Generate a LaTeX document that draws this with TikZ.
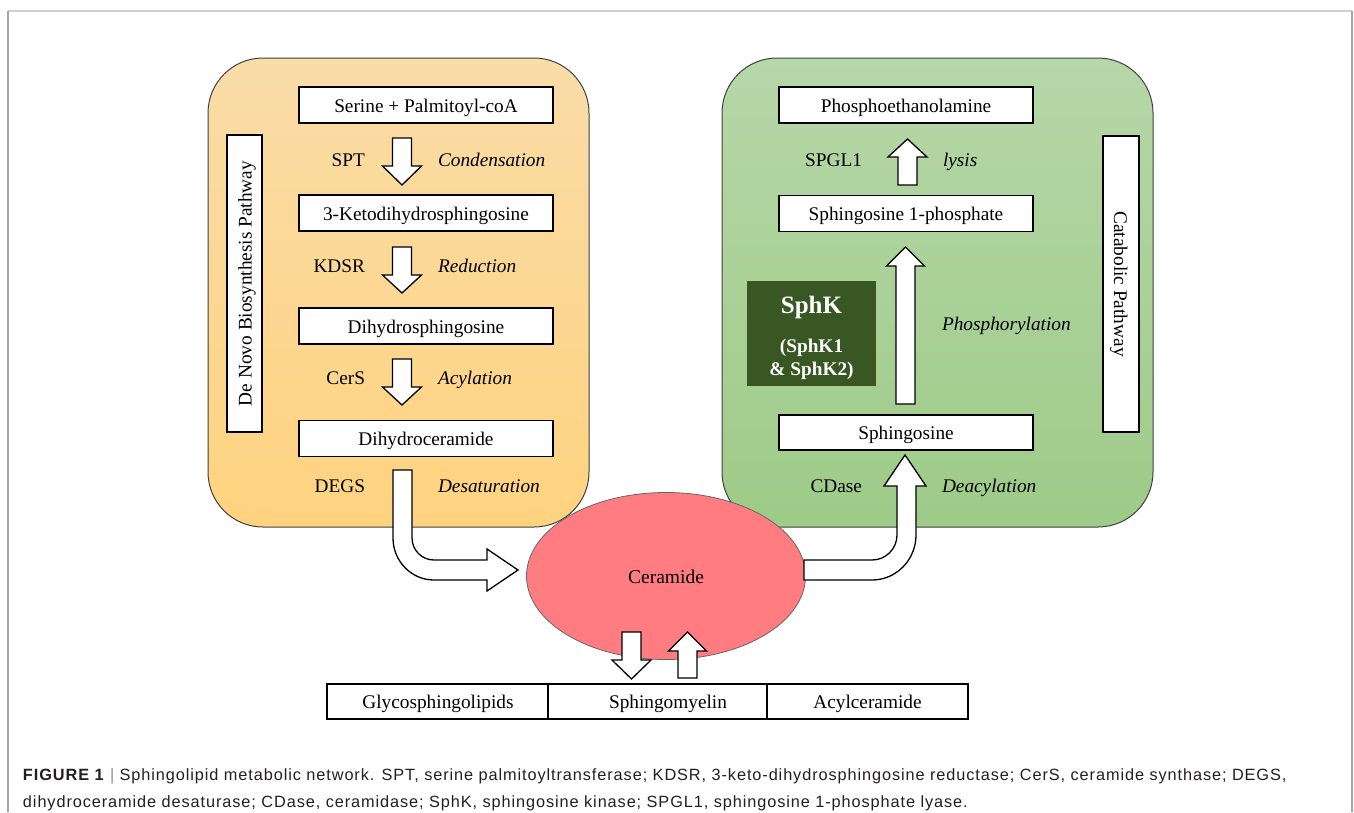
\documentclass[tikz,border=0pt]{standalone}
\usepackage{fontspec}
\setmainfont{Liberation Serif}
\newfontfamily\capfont[LetterSpace=5.6]{Liberation Sans}
\usetikzlibrary{shapes.geometric}
\definecolor{orTop}{HTML}{FADCA8}
\definecolor{orBot}{HTML}{FFD37F}
\definecolor{grTop}{HTML}{B6D7A8}
\definecolor{grBot}{HTML}{9ECB88}
\definecolor{panelline}{HTML}{404040}
\definecolor{sphkgreen}{HTML}{385723}
\definecolor{ceramred}{HTML}{FF7C80}
\definecolor{frameside}{HTML}{A6A6A6}
\definecolor{frametop}{HTML}{D0D0D0}
\definecolor{capcol}{HTML}{231F20}
\definecolor{bargray}{HTML}{8C8C8C}
\newcommand\blockarr[6]{\draw[blockarrow] ({#1-#2},#4) -- ({#1+#2},#4) -- ({#1+#2},#5) -- ({#1+#3},#5) -- (#1,#6) -- ({#1-#3},#5) -- ({#1-#2},#5) -- cycle;}
\begin{document}
\begin{tikzpicture}[x=1pt,y=-1pt,
  every node/.style={inner sep=0pt, outer sep=0pt},
  lbl/.style={font=\fontsize{19.3}{23}\selectfont},
  itl/.style={font=\fontsize{19.3}{23}\selectfont\itshape},
  stagebox/.style={draw=black, fill=white, line width=1.3pt, minimum width=254pt, minimum height=36pt, text height=14pt, text depth=0pt, font=\fontsize{19.3}{23}\selectfont},
  sidebox/.style={draw=black, fill=white, line width=1.3pt, minimum width=297pt, minimum height=35pt, text height=14pt, text depth=0pt, font=\fontsize{19.3}{23}\selectfont},
  prodbox/.style={draw=black, fill=white, line width=1.3pt, minimum height=35pt},
  blockarrow/.style={draw=black, fill=white, line width=1.3pt, line join=miter},
  panel/.style={draw=panelline, line width=1pt, rounded corners=55pt},
  captxt/.style={anchor=base west, text=capcol, font=\capfont\fontsize{16.3}{20}\selectfont},
]
\useasboundingbox (0,0) rectangle (1354,812);
% frame
\draw[frametop, line width=1.5pt] (8,11) -- (1352,11);
\draw[frameside, line width=1.5pt] (8,812) -- (8,11);
\draw[frameside, line width=1.5pt] (1352,11) -- (1352,812);
% panels
\path[panel, top color=orTop, bottom color=orBot] (208,58) rectangle (589,527);
\path[panel, top color=grTop, bottom color=grBot] (722,58) rectangle (1153,527);
% left pathway
\node[stagebox] (serine) at (426,105) {Serine + Palmitoyl-coA};
\node[stagebox] (keto) at (426,213) {3-Ketodihydrosphingosine};
\node[stagebox] (dihydro) at (426,326) {Dihydrosphingosine};
\node[stagebox] (dhcer) at (426,438.5) {Dihydroceramide};
\node[sidebox, rotate=90] (denovo) at (244.5,283.5) {De Novo Biosynthesis Pathway};
\blockarr{402}{9.5}{19.5}{138}{166}{185}
\blockarr{402}{9.5}{19.5}{247}{275}{293}
\blockarr{402}{9.5}{19.5}{359}{387}{405}
\node[lbl, anchor=base east] (spt) at (365,166) {SPT};
\node[itl, anchor=base west] (cond) at (438,166) {Condensation};
\node[lbl, anchor=base east] (kdsr) at (365,272) {KDSR};
\node[itl, anchor=base west] (red) at (438,272) {Reduction};
\node[lbl, anchor=base east] (cers) at (365,384) {CerS};
\node[itl, anchor=base west] (acyl) at (438,384) {Acylation};
\node[lbl, anchor=base east] (degs) at (365,492) {DEGS};
\node[itl, anchor=base west] (desat) at (438,492) {Desaturation};
% right pathway
\node[stagebox] (pea) at (906,105) {Phosphoethanolamine};
\node[stagebox] (s1p) at (906,213.5) {Sphingosine 1-phosphate};
\node[stagebox, minimum height=35pt] (sph) at (906,432.5) {Sphingosine};
\node[sidebox, rotate=-90, minimum width=296pt, minimum height=36pt] (catab) at (1121,284) {Catabolic Pathway};
\node[fill=sphkgreen, minimum width=129pt, minimum height=105pt] (sphk) at (811.5,333.5) {};
\node[anchor=base, text=white, font=\fontsize{25}{30}\selectfont\bfseries] at (811.5,313) {SphK};
\node[anchor=base, text=white, font=\fontsize{19.3}{23}\selectfont\bfseries] at (811.5,352) {(SphK1};
\node[anchor=base, text=white, font=\fontsize{19.3}{23}\selectfont\bfseries] at (811.5,375) {\& SphK2)};
\blockarr{907.5}{9.5}{19.5}{185}{157}{139}
\blockarr{905.5}{9.5}{19}{404}{266}{247}
\node[lbl, anchor=base east] (spgl) at (862,166) {SPGL1};
\node[itl, anchor=base west] (lysis) at (943,166) {lysis};
\node[itl, anchor=base west] (phos) at (942,330) {Phosphorylation};
\node[lbl, anchor=base east] (cdase) at (862,492) {CDase};
\node[itl, anchor=base west] (deacyl) at (942,492) {Deacylation};
% ceramide
\node[ellipse, draw=black!60, line width=0.8pt, fill=ceramred, minimum width=279pt, minimum height=167pt, text height=14pt, text depth=0pt, font=\fontsize{19.5}{23}\selectfont] (cer) at (666,576) {Ceramide};
% bent arrow DEGS -> Ceramide
\draw[blockarrow] (393,470) -- (412,470) -- (412,538)
  .. controls (412,550.1) and (421.9,560) .. (434,560)
  -- (487,560) -- (487,549) -- (518,570) -- (487,591) -- (487,580) -- (434,580)
  .. controls (411.4,580) and (393,561.2) .. (393,538) -- cycle;
% bent arrow Ceramide -> Sphingosine
\draw[blockarrow] (804,560) -- (872,560)
  .. controls (885.8,560) and (897,548.8) .. (897,535)
  -- (897,486) -- (884,486) -- (905,455) -- (926,486) -- (916,486) -- (916,535)
  .. controls (916,559.8) and (896.3,580) .. (872,580)
  -- (804,580) -- cycle;
% products
\node[prodbox, minimum width=221pt] (glyco) at (437.5,701.5) {};
\node[prodbox, minimum width=219pt] (sm) at (657.5,701.5) {};
\node[prodbox, minimum width=201pt] (acylcer) at (867.5,701.5) {};
\node[lbl, anchor=base] at (438,708) {Glycosphingolipids};
\node[lbl, anchor=base] at (668,708) {Sphingomyelin};
\node[lbl, anchor=base] at (867.5,708) {Acylceramide};
\blockarr{631.5}{9.5}{19.5}{632}{660}{679}
\blockarr{687.5}{9.5}{19}{678}{651}{632}
% caption
\node[captxt] (cap1) at (23,780) {\textbf{FIGURE 1} {\color{bargray}|} Sphingolipid metabolic network. SPT, serine palmitoyltransferase; KDSR, 3-keto-dihydrosphingosine reductase; CerS, ceramide synthase; DEGS,};
\node[captxt] (cap2) at (23,807) {dihydroceramide desaturase; CDase, ceramidase; SphK, sphingosine kinase; SPGL1, sphingosine 1-phosphate lyase.};
\end{tikzpicture}
\end{document}
